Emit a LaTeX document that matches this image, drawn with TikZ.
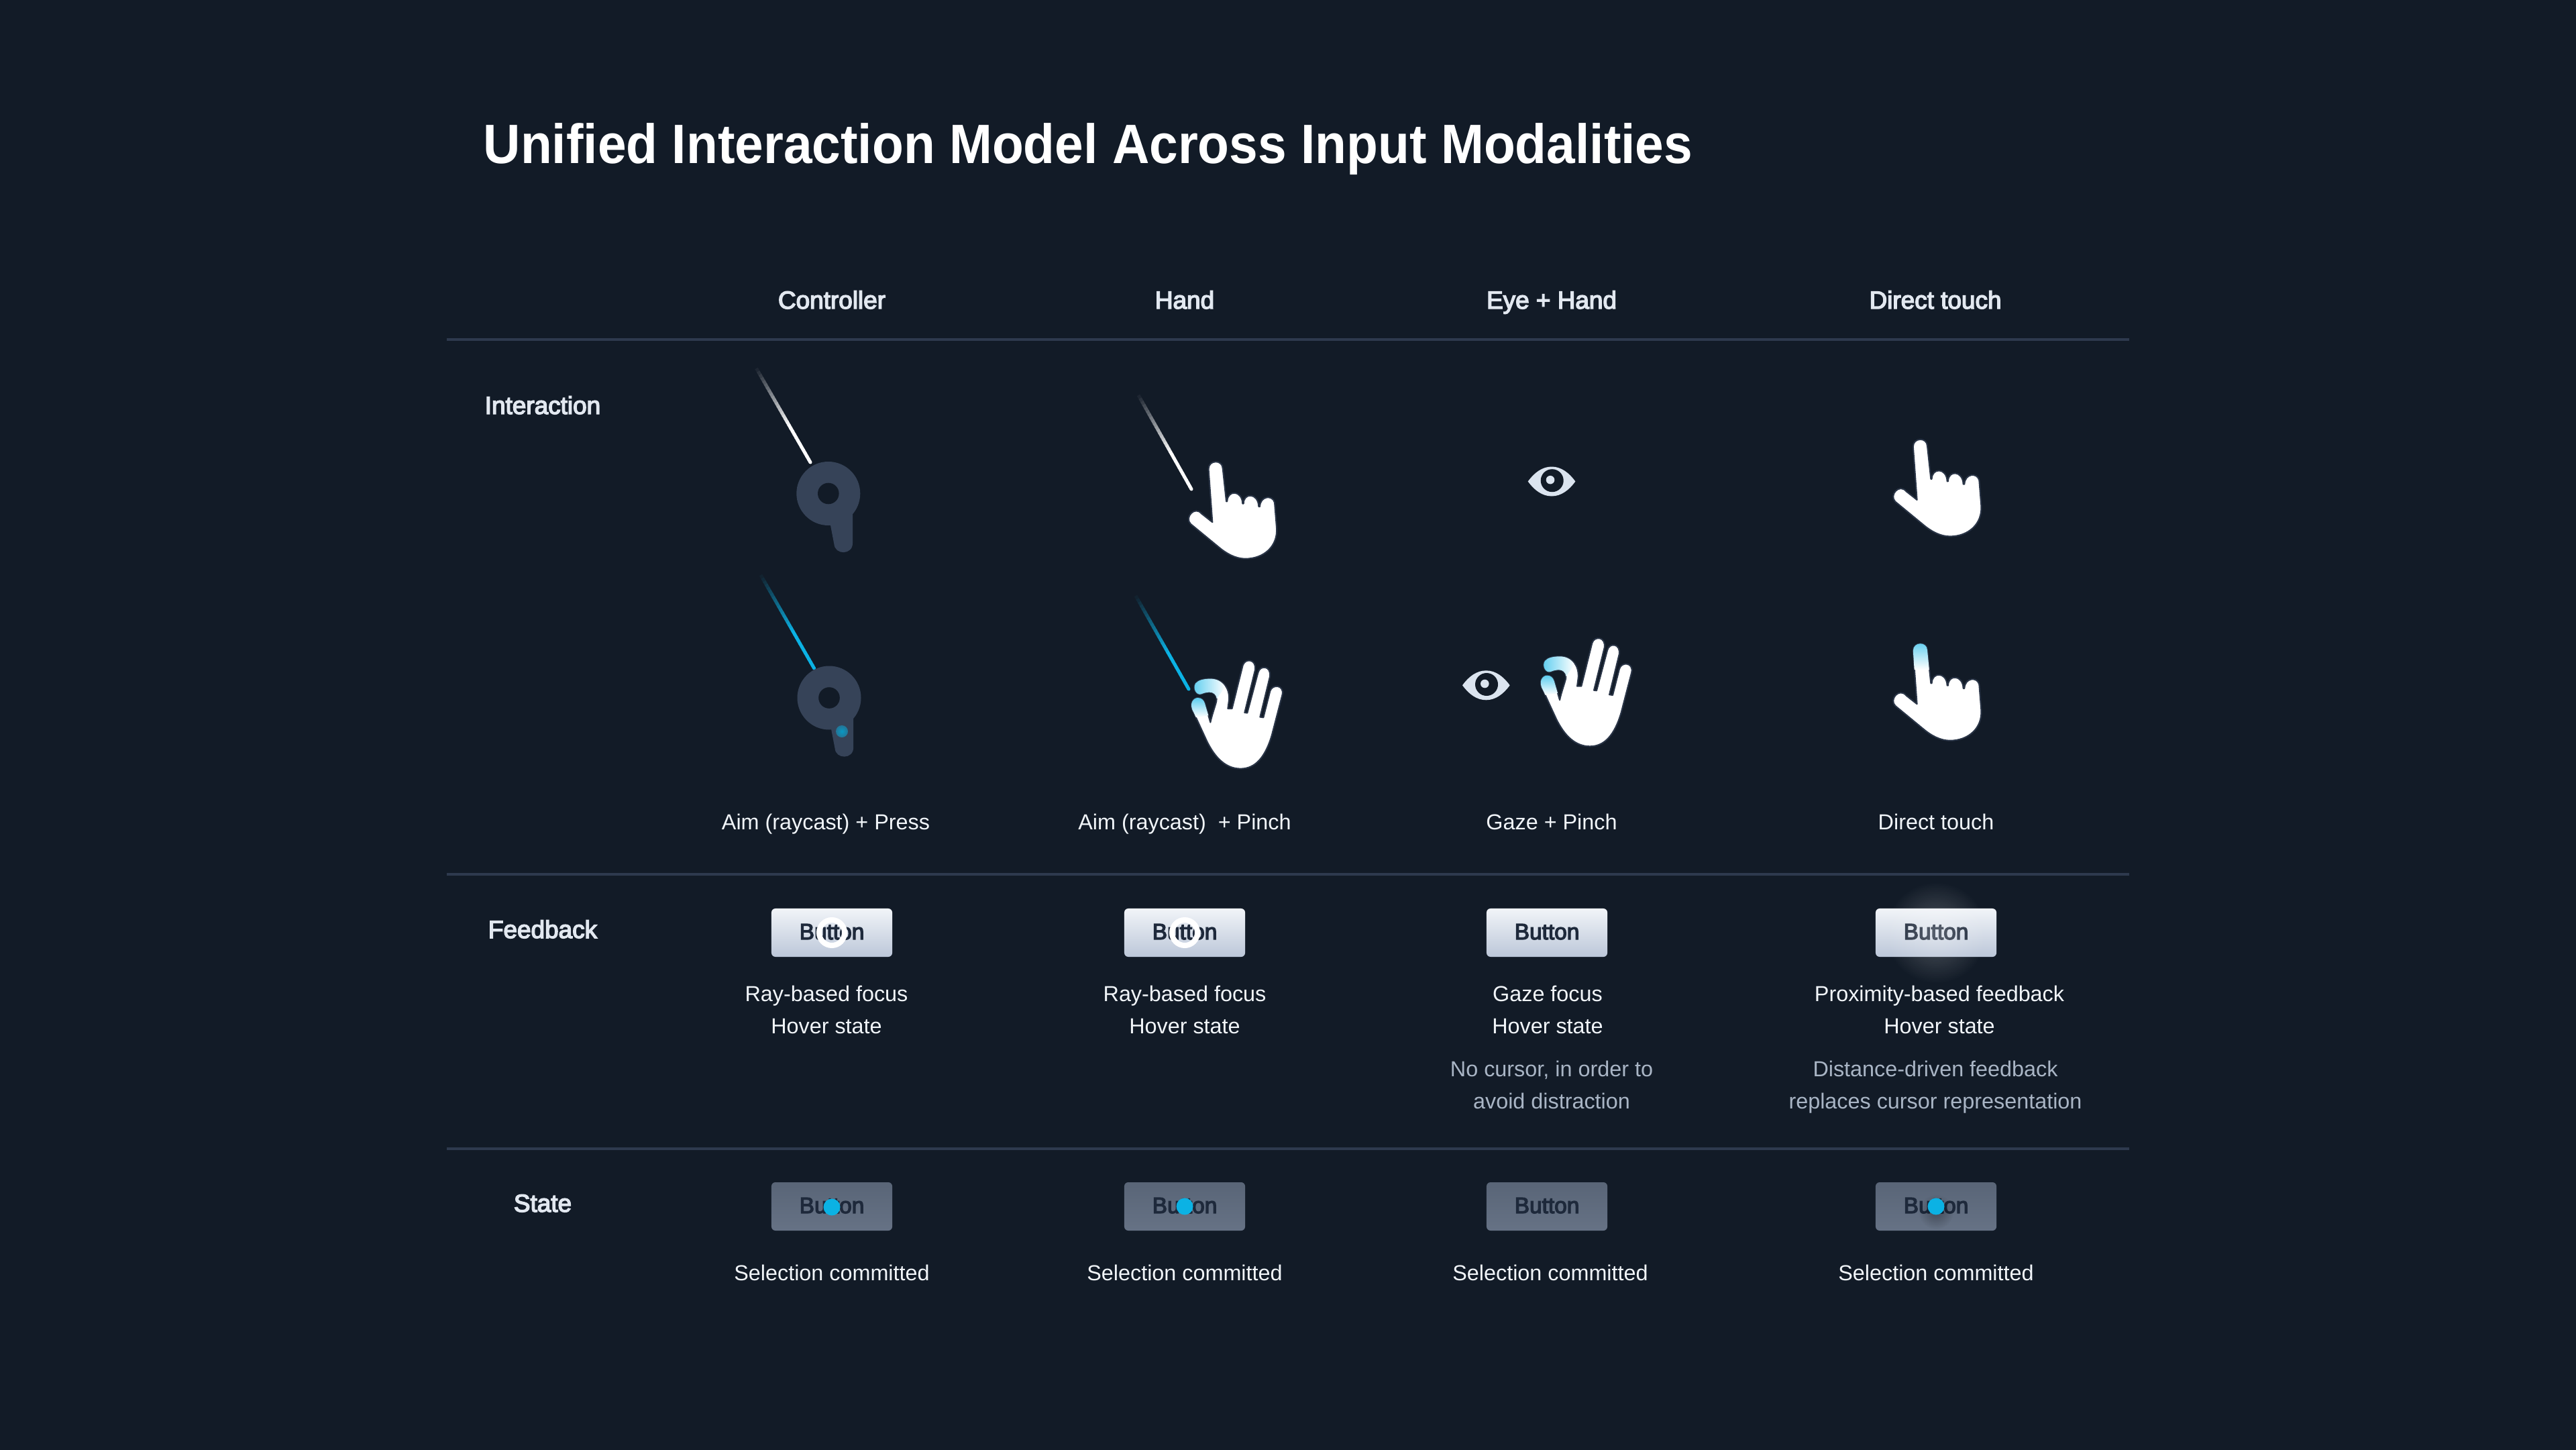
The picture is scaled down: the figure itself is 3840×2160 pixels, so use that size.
\documentclass[tikz,border=0pt]{standalone}
\usepackage{fontspec}
\setmainfont{Liberation Sans}
\newfontfamily\medfont[FakeBold=4]{Liberation Sans}
\newfontfamily\titlefont[FakeStretch=0.928]{Liberation Sans}
\usepackage{xcolor}
\usepackage{tikz}
\usetikzlibrary{calc, fadings}
\definecolor{bgdark}{HTML}{121B27}
\definecolor{rulec}{HTML}{2E3A4E}
\definecolor{headc}{HTML}{E2E8F0}
\definecolor{capc}{HTML}{F1F5F9}
\definecolor{mutedc}{HTML}{A9B5C5}
\definecolor{ctrlc}{HTML}{364358}
\definecolor{edgec}{HTML}{2A3547}
\definecolor{eyec}{HTML}{DBE4EF}
\definecolor{cyanc}{HTML}{0BB2E4}
\definecolor{tipc}{HTML}{5CCDEF}
\definecolor{tipm}{HTML}{8ADBF3}
\definecolor{btnt}{HTML}{F1F4F8}
\definecolor{btnm}{HTML}{DDE3ED}
\definecolor{btnb}{HTML}{BCC7D9}
\definecolor{stt}{HTML}{596577}
\definecolor{stb}{HTML}{667285}
\definecolor{btntxt}{HTML}{1E293B}
\tikzfading[name=glowfade, inner color=transparent!74, outer color=transparent!100]
\tikzfading[name=shadowfade, inner color=transparent!70, outer color=transparent!100]

\begin{document}
\begin{tikzpicture}[
  x=0.01cm, y=-0.01cm,
  titlet/.style={anchor=base west, inner sep=0, text=white, font=\fontsize{23.5}{27}\titlefont\bfseries\selectfont},
  headt/.style={anchor=base, inner sep=0, text=headc, font=\fontsize{10.5}{13}\medfont\selectfont},
  capt/.style={anchor=base, inner sep=0, text=capc, font=\fontsize{9.2}{11}\selectfont},
  mutedt/.style={anchor=base, inner sep=0, text=mutedc, font=\fontsize{9.2}{11}\selectfont},
  btnlit/.style={rectangle, rounded corners=0.06cm, minimum width=1.8cm, minimum height=0.72cm, inner sep=0,
                 top color=btnt, middle color=btnm, bottom color=btnb},
  btnset/.style={rectangle, rounded corners=0.06cm, minimum width=1.8cm, minimum height=0.72cm, inner sep=0,
                 top color=stt, bottom color=stb},
  btnt/.style={anchor=base, inner sep=0, text=btntxt, font=\fontsize{9.5}{11}\medfont\selectfont},
  ring/.style={circle, draw=white, line width=0.08cm, minimum size=0.38cm, inner sep=0},
  seldot/.style={circle, fill=cyanc, minimum size=0.25cm, inner sep=0},
  handfill/.style={fill=white, draw=edgec, line width=0.02cm, line join=round},
  rule/.style={draw=rulec, line width=0.04cm},
  controller/.pic={
    \fill[ctrlc] (0,0) circle (47.5);
    \fill[ctrlc] (3.2,47.5) -- (36.2,30.5) -- (36.2,74) .. controls (36.2,92) and (9.5,92) .. (8.5,75) -- cycle;
    \fill[bgdark] (0,0) circle (15.8);
  },
  pointhand/.pic={
    \path[handfill] (-10.5,0) .. controls (-10.5,-14) and (10.5,-14.5) .. (10.7,-0.7)
      -- (16,48.3) -- (17.3,48.3)
      .. controls (17.5,31) and (39.5,31) .. (40.3,51.7) -- (41.7,51.7)
      .. controls (41.5,35) and (63.5,35) .. (64.3,56) -- (66,56)
      .. controls (66.5,40) and (85,38) .. (88,50) -- (91,87.7)
      .. controls (93,115) and (72,133.7) .. (44.3,133.7)
      .. controls (30,133.7) and (16,126) .. (4.3,116) -- (-37,82)
      .. controls (-47,72.5) and (-31,54) .. (-20.7,66.7) -- (-4.7,79.3) -- cycle;
  },
  openhand/.pic={
    \path[handfill] (103.3,28.3) .. controls (107,17) and (124,19) .. (121.7,35)
      -- (106,98.7) -- (110,99.3) -- (126,39.3)
      .. controls (129,27) and (146,29) .. (143.7,45)
      -- (129,105.3) -- (134,106) -- (144,66.7)
      .. controls (147,56) and (165,57) .. (162.3,71.7)
      -- (146.7,131.7) .. controls (137,165) and (122,182.3) .. (100,182.3)
      .. controls (78,182.3) and (62,166) .. (50,141.7) -- (30,98.3)
      .. controls (22,85) and (30,76.7) .. (36,76.7) .. controls (42,76.7) and (45,80) .. (46.7,85)
      -- (55,113.3) .. controls (58,100) and (62,90) .. (64,81.7)
      .. controls (65.5,73) and (60,68) .. (53.3,68.3)
      .. controls (48,68.5) and (44,70) .. (41.7,71)
      .. controls (34,74) and (28,62) .. (33,55)
      .. controls (37,50) and (46,48.3) .. (55,48.3)
      .. controls (72,48.3) and (84,60) .. (82.7,80)
      -- (81,92.7) -- (87.3,92.7) -- cycle;
    % Pinching fingertips
    \shade[top color=tipc, middle color=tipm, bottom color=white]
      (33.5,105.8) -- (30,98.3) .. controls (22,85) and (30,76.7) .. (36,76.7)
      .. controls (42,76.7) and (45,80) .. (46.7,85) -- (52,103) -- cycle;
    \shade[left color=tipc, middle color=tipm, right color=white]
      (53.3,68.3) .. controls (48,68.5) and (44,70) .. (41.7,71)
      .. controls (34,74) and (28,62) .. (33,55) .. controls (37,50) and (46,48.3) .. (55,48.3)
      .. controls (64,48.3) and (72,52) .. (77,60) -- (64.5,78)
      .. controls (64,72) and (59,68) .. (53.3,68.3) -- cycle;
  },
  eyeicon/.pic={
    \fill[eyec] (-35.3,0) .. controls (-26,-13) and (-14,-22) .. (0,-22)
      .. controls (14,-22) and (26,-13) .. (35.3,0)
      .. controls (26,13) and (14,22) .. (0,22)
      .. controls (-14,22) and (-26,13) .. (-35.3,0) -- cycle;
    \fill[bgdark] (0.7,-1.3) circle (17);
    \fill[eyec] (-2,-2.3) circle (6.3);
  }
]
  \path[use as bounding box, fill=bgdark] (0,0) rectangle (3840,2161);

  % Title and headers
  \node[titlet] (title) at (720,244) {Unified Interaction Model Across Input Modalities};
  \node[headt] (hctrl) at (1240,460) {Controller};
  \node[headt] (hhand) at (1766,460) {Hand};
  \node[headt] (heye) at (2313,460) {Eye + Hand};
  \node[headt] (htouch) at (2885,460) {Direct touch};

  % Rules
  \coordinate (r1a) at (666,505.5);   \coordinate (r1b) at (3174,505.5);
  \coordinate (r2a) at (666,1303);    \coordinate (r2b) at (3174,1303);
  \coordinate (r3a) at (666,1712);    \coordinate (r3b) at (3174,1712);
  \draw[rule] (r1a) -- (r1b);
  \draw[rule] (r2a) -- (r2b);
  \draw[rule] (r3a) -- (r3b);

  % Row labels
  \node[headt] (linter) at (809,617) {Interaction};
  \node[headt] (lfeed) at (809,1398) {Feedback};
  \node[headt] (lstate) at (809,1806) {State};

  % Rays
  \foreach \sx/\sy/\ex/\ey/\col in {1127.5/549/1208/689/white, 1697/589/1776/729/white,
                                    1134/857/1213.6/996/cyanc, 1693/888/1772/1027/cyanc} {
    \foreach \i in {1,...,30} {
      \pgfmathtruncatemacro{\pct}{min(100,\i*100/19)}
      \pgfmathsetmacro{\ta}{(\i-1)/30}
      \pgfmathsetmacro{\tb}{min(1,\i/30+0.006)}
      \draw[color=\col!\pct!bgdark, line width=0.05cm]
        ($(\sx,\sy)!\ta!(\ex,\ey)$) -- ($(\sx,\sy)!\tb!(\ex,\ey)$);
    }
    \fill[\col] (\ex,\ey) circle (2.5);
  }

  % Interaction icons
  \pic (ctrla) at (1234.8,735.5) {controller};
  \pic (ctrlb) at (1236,1040) {controller};
  \shade[inner color=cyanc!85!black, outer color=cyanc!45!ctrlc] (1255,1090) circle (9);
  \pic (hpoint) at (1812,699) {pointhand};
  \pic (hopen) at (1749.3,963.3) {openhand};
  \pic (eyea) at (2313,717.5) {eyeicon};
  \pic (eyeb) at (2215.3,1021.3) {eyeicon};
  \pic (hpinch) at (2270,930) {openhand};
  \pic (touchb) at (2862.3,665.7) {pointhand};
  \pic (toucha) at (2862.3,970) {pointhand};
  \shade[top color=tipc, middle color=tipm, bottom color=white]
    (2851.8,970) .. controls (2851.8,956) and (2872.8,955.5) .. (2873,969.3)
    -- (2875.8,998) -- (2853.6,998) -- cycle;

  % Interaction captions
  \node[capt] (caim) at (1231,1236) {Aim (raycast) + Press};
  \node[capt] (cpinch) at (1766,1236) {Aim (raycast)\ \ + Pinch};
  \node[capt] (cgaze) at (2313,1236) {Gaze + Pinch};
  \node[capt] (ctouch) at (2886,1236) {Direct touch};

  % Feedback buttons
  \node[btnlit] (fba) at (1240,1390) {};
  \node[btnlit] (fbb) at (1766,1390) {};
  \node[btnlit] (fbc) at (2306,1390) {};
  \node[btnlit] (fbd) at (2886,1390) {};
  \node[btnt] (fta) at (1240,1400) {Button};
  \node[btnt] (ftb) at (1766,1400) {Button};
  \node[btnt] (ftc) at (2306,1400) {Button};
  \node[btnt] (ftd) at (2886,1400) {Button};
  \node[ring] (ringa) at (1240,1390) {};
  \node[ring] (ringb) at (1766,1390) {};
  \fill[white, path fading=glowfade] (2886,1390) circle (76);

  % Feedback captions
  \node[capt] (fa1) at (1232,1492) {Ray-based focus};
  \node[capt] (fa2) at (1232,1540) {Hover state};
  \node[capt] (fb1) at (1766,1492) {Ray-based focus};
  \node[capt] (fb2) at (1766,1540) {Hover state};
  \node[capt] (fc1) at (2307,1492) {Gaze focus};
  \node[capt] (fc2) at (2307,1540) {Hover state};
  \node[capt] (fd1) at (2891,1492) {Proximity-based feedback};
  \node[capt] (fd2) at (2891,1540) {Hover state};
  \node[mutedt] (fc3) at (2313,1604) {No cursor, in order to};
  \node[mutedt] (fc4) at (2313,1652) {avoid distraction};
  \node[mutedt] (fd3) at (2885,1604) {Distance-driven feedback};
  \node[mutedt] (fd4) at (2885,1652) {replaces cursor representation};

  % State buttons
  \node[btnset] (sba) at (1240,1798) {};
  \node[btnset] (sbb) at (1766,1798) {};
  \node[btnset] (sbc) at (2306,1798) {};
  \node[btnset] (sbd) at (2886,1798) {};
  \node[btnt] (sta) at (1240,1808) {Button};
  \node[btnt] (stb) at (1766,1808) {Button};
  \node[btnt] (stc) at (2306,1808) {Button};
  \node[btnt] (std) at (2886,1808) {Button};
  \fill[black, path fading=shadowfade] (2886,1806) circle (26);
  \node[seldot] (dota) at (1240,1799) {};
  \node[seldot] (dotb) at (1766,1798) {};
  \node[seldot] (dotd) at (2886,1798) {};

  % State captions
  \node[capt] (sca) at (1240,1908) {Selection committed};
  \node[capt] (scb) at (1766,1908) {Selection committed};
  \node[capt] (scc) at (2311,1908) {Selection committed};
  \node[capt] (scd) at (2886,1908) {Selection committed};
\end{tikzpicture}
\end{document}
